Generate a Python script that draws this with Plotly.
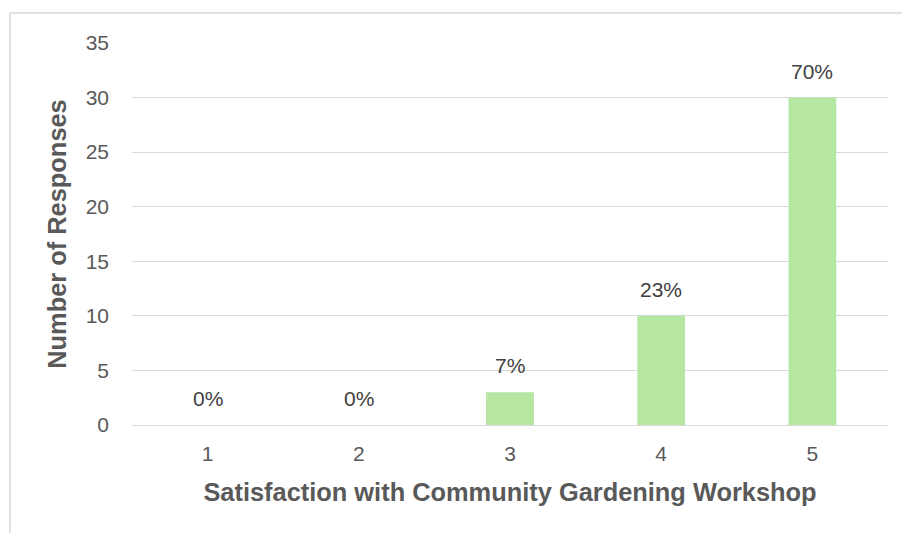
import plotly.graph_objects as go

# Survey results: satisfaction rating vs. number of responses
ratings = ["1", "2", "3", "4", "5"]
responses = [0, 0, 3, 10, 30]
y_ticks = [0, 5, 10, 15, 20, 25, 30, 35]

total = sum(responses)
pct_labels = [f"{round(v / total * 100)}%" for v in responses]

FONT = "Liberation Sans"
BAR_COLOR = "#b5e6a2"
GRID = "#d9d9d9"
TICK_SIZE = 21
TITLE_SIZE = 25.4

fig = go.Figure(
    go.Bar(
        x=ratings,
        y=responses,
        marker=dict(color=BAR_COLOR, line=dict(width=0)),
        width=0.316,
        hoverinfo="skip",
    )
)

# Percentage labels above each bar (category axis positions are indices)
for i, (v, lab) in enumerate(zip(responses, pct_labels)):
    fig.add_annotation(
        x=i, y=v, text=lab, showarrow=False,
        yanchor="bottom", yshift=13,
        font=dict(family=FONT, size=TICK_SIZE, color="#404040"),
    )

# Light chart frame
fig.add_shape(
    type="rect", xref="paper", yref="paper",
    x0=-0.1614, x1=1.05, y0=-0.35, y1=1.0785,
    line=dict(color=GRID, width=1.5), fillcolor="rgba(0,0,0,0)",
    layer="below",
)

fig.update_layout(
    width=902, height=533,
    margin=dict(l=132, r=14, t=43, b=108),
    paper_bgcolor="white", plot_bgcolor="white",
    showlegend=False,
    font=dict(family=FONT, size=TICK_SIZE, color="#595959"),
    xaxis=dict(
        type="category", range=[-0.5, 4.5],
        showgrid=False, zeroline=False, showline=False,
        ticks="", ticklabelstandoff=14,
        tickfont=dict(family=FONT, size=TICK_SIZE, color="#595959"),
        title=dict(text="<b>Satisfaction with Community Gardening Workshop</b>",
                   font=dict(family=FONT, size=TITLE_SIZE, color="#595959"), standoff=19),
    ),
    yaxis=dict(
        range=[0, 35], tickvals=y_ticks,
        showgrid=True, gridcolor=GRID, gridwidth=1.3,
        zeroline=True, zerolinecolor=GRID, zerolinewidth=1.3,
        showline=False, ticks="", ticklabelstandoff=22,
        tickfont=dict(family=FONT, size=TICK_SIZE, color="#595959"),
        title=dict(text="<b>Number of Responses</b>",
                   font=dict(family=FONT, size=TITLE_SIZE, color="#595959"), standoff=11),
    ),
)

fig.write_html("out.html")
